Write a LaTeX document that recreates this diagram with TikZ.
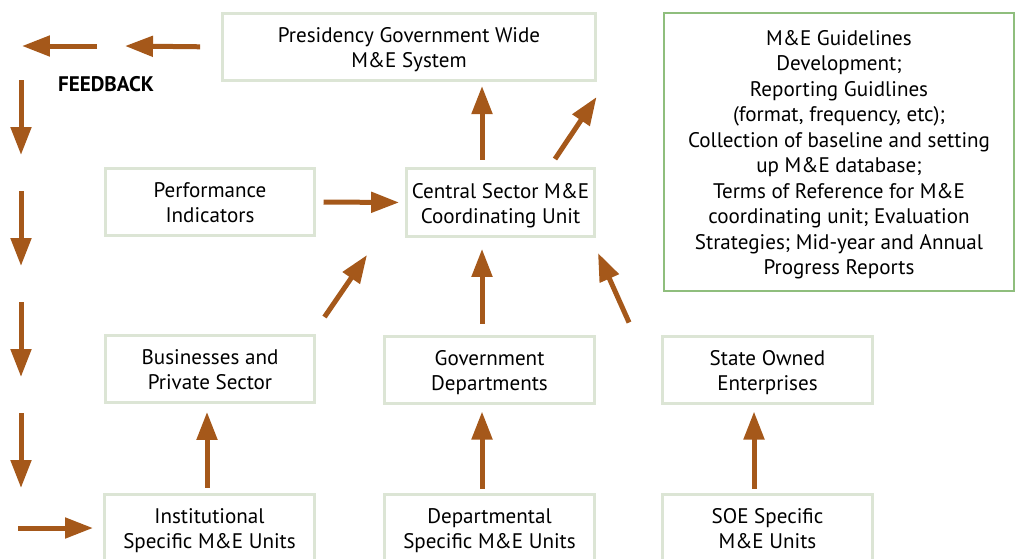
\documentclass[tikz,border=0pt]{standalone}
\usepackage{fontspec}
\setmainfont{PT Sans}
\usetikzlibrary{arrows.meta}
\definecolor{arrowbrown}{RGB}{165,88,26}
\definecolor{boxgray}{RGB}{220,229,213}
\definecolor{boxgreen}{RGB}{143,190,125}

\begin{document}
\begin{tikzpicture}[x=0.02cm, y=-0.02cm,
unitbox/.style={draw=boxgray, line width=0.06cm, minimum width=4.2cm, minimum height=1.34cm, inner sep=0pt, align=center, text height=26.8pt, text depth=3pt, font=\fontsize{12}{14.2}\selectfont},
notebox/.style={draw=boxgreen, line width=0.04cm, minimum width=7.02cm, minimum height=5.56cm, inner sep=0pt, align=center, text height=142.6pt, text depth=3pt, font=\fontsize{12}{14.5}\selectfont},
arr/.style={draw=arrowbrown, fill=arrowbrown, line width=0.1cm, -{Triangle[length=0.56cm,width=0.4cm]}}
]
    \useasboundingbox (0,0) rectangle (1016,558);

    \node[unitbox, minimum width=7.46cm] (pres) at (409,47) {Presidency Government Wide\\M\&E System};
    \node[notebox] (guide) at (839,152) {M\&E Guidelines\\Development;\\Reporting Guidlines\\(format, frequency, etc);\\Collection of baseline and setting\\up M\&E database;\\Terms of Reference for M\&E\\coordinating unit; Evaluation\\Strategies; Mid-year and Annual\\Progress Reports};

    \node[unitbox] (perf) at (210,202) {Performance\\Indicators};
    \node[unitbox, minimum width=3.76cm, minimum height=1.36cm] (central) at (500.5,202.5) {Central Sector M\&E\\Coordinating Unit};

    \node[unitbox] (bus) at (210,369) {Businesses and\\Private Sector};
    \node[unitbox] (gov) at (489.5,369.5) {Government\\Departments};
    \node[unitbox] (soe) at (767.5,369.5) {State Owned\\Enterprises};

    \node[unitbox] (inst) at (209.5,528) {Institutional\\Specific M\&E Units};
    \node[unitbox] (dept) at (489.5,528) {Departmental\\Specific M\&E Units};
    \node[unitbox] (soeu) at (767.5,528) {SOE Specific\\M\&E Units};

    \node[font=\fontsize{12}{14.2}\selectfont\bfseries] (fbtext) at (106,84) {FEEDBACK};

    % columns of the upward arrows
    \coordinate (lcol) at (207,0);
    \coordinate (mcol) at (482,0);
    \coordinate (rcol) at (754,0);

    \draw[arr, shorten <=3pt, shorten >=4.5pt] (inst.north -| lcol) -- (bus.south -| lcol);
    \draw[arr, shorten <=2.3pt, shorten >=4pt] (dept.north -| mcol) -- (gov.south -| mcol);
    \draw[arr, shorten <=2.3pt, shorten >=4pt] (soeu.north -| rcol) -- (soe.south -| rcol);

    \draw[arr, shorten <=6.2pt, shorten >=6.2pt] (gov.north -| mcol) -- (central.south -| mcol);
    \draw[arr] ([shift={(8,-17)}]bus.north east) -- ([shift={(-38,17)}]central.south west);
    \draw[arr] ([shift={(-32,-12)}]soe.north west) -- ([shift={(2,15)}]central.south east);
    \draw[arr, shorten <=4pt, shorten >=3.4pt] (perf.east) -- (central.west);

    \draw[arr, shorten <=4pt, shorten >=2.3pt] (central.north -| mcol) -- (pres.south -| mcol);
    \draw[arr] ([shift={(-41,-8)}]central.north east) -- ([shift={(-66,85)}]guide.north west);

    % feedback loop
    \coordinate (fb1) at (125,46);
    \coordinate (fb2s) at (97,46);
    \coordinate (fb2e) at (22,46);
    \draw[arr, shorten <=11.9pt] (pres.west) -- (fb1);
    \draw[arr] (fb2s) -- (fb2e);
    \foreach \i/\y in {1/80,2/191,3/302,4/413}{
        \coordinate (dn\i s) at (21,\y);
        \coordinate (dn\i e) at (21,\y+75);
        \draw[arr] (dn\i s) -- (dn\i e);
    }
    \coordinate (fbin) at (18,528);
    \draw[arr, shorten >=5.7pt] (fbin) -- (inst.west);
\end{tikzpicture}
\end{document}
